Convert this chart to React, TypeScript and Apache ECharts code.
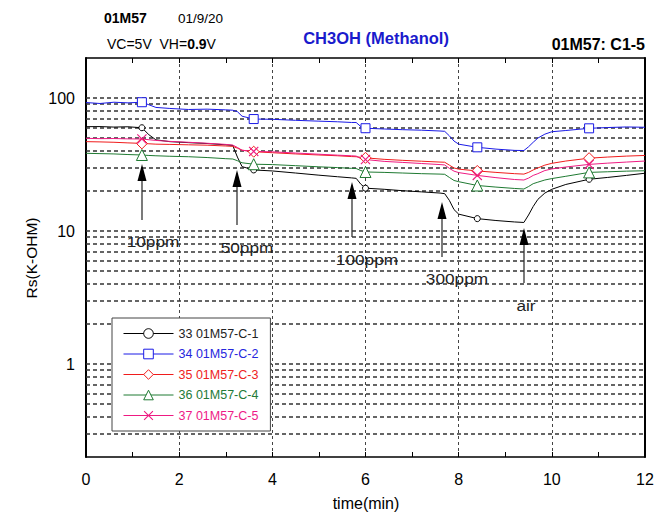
import React, { useEffect, useRef } from 'react';
import * as echarts from 'echarts';

const FONT = '"Liberation Sans", Arial, Helvetica, sans-serif';

// sample times (min)
const TIME = [0, 0.3, 0.6, 0.9, 1.2, 1.35, 1.5, 1.8, 2.2, 2.6, 3.0, 3.15, 3.25, 3.35, 3.6, 4.0, 4.5, 5.0, 5.4, 5.7, 5.8, 5.9, 6.0, 6.4, 6.8, 7.2, 7.6, 7.7, 7.8, 7.9, 8.0, 8.4, 8.8, 9.2, 9.4, 9.5, 9.6, 9.7, 9.85, 10.0, 10.3, 10.8, 11.2, 11.6, 12.0];
// times where markers are drawn
const MARKER_TIMES = [1.2, 3.6, 6.0, 8.4, 10.8];

const C1 = [60.9, 61, 60.5, 60.8, 59.8, 53, 48.5, 47, 46.2, 45.5, 44.5, 44, 36, 30.5, 28.8, 28.3, 27.3, 26.3, 25.6, 25.1, 24.9, 22.5, 21.0, 20.6, 20.1, 19.7, 19.3, 19.1, 17, 14.5, 13.4, 12.4, 12.0, 11.7, 11.6, 13.2, 15.3, 17.3, 19.3, 20.6, 22.4, 24.5, 25.3, 26.2, 27.2];
const C2 = [92.5, 91, 93, 92, 93, 89, 85, 83.5, 82, 82.5, 81.5, 81, 79, 73, 69.5, 69.2, 68, 67, 66.3, 65.5, 65.5, 61, 59.3, 58.5, 57.8, 57.3, 56.5, 56.2, 52, 47.5, 45, 42.6, 41.3, 40.4, 40.3, 43, 46.5, 50, 53.5, 55.8, 57, 59.2, 60, 60.6, 60.3];
const C3 = [47, 46.8, 46.5, 46, 45.6, 45.3, 45, 44.8, 44.5, 44.2, 43.6, 43.3, 42, 40.5, 39.5, 38.8, 38, 37.3, 36.8, 36.3, 36.2, 35.8, 35.5, 34.6, 34, 33.5, 33, 32.9, 31.3, 29.8, 29.2, 28.3, 27.6, 27, 26.8, 27.6, 28.8, 29.8, 31.3, 32.3, 33.6, 35.3, 36, 36.6, 37];
const C4 = [38.4, 38.2, 38, 37.6, 37.3, 37, 36.8, 36.5, 36.2, 35.7, 35, 34.8, 33.8, 32.6, 31.8, 31.6, 31, 30.4, 30, 29.6, 29.5, 28.5, 27.8, 27.6, 27.3, 27, 26.8, 26.7, 25.3, 24, 23.5, 22, 21.4, 20.9, 20.7, 21.6, 22.7, 23.3, 24.2, 24.8, 25.8, 27.6, 27.9, 28.2, 28.4];
const C5 = [49.8, 49.5, 49.6, 49.3, 49.2, 48.6, 48, 47.2, 46.5, 45.7, 44.8, 44.3, 42.5, 40.5, 39.7, 39.4, 38.6, 37.8, 37.2, 36.8, 36.6, 35, 34.5, 33.4, 32.8, 32.2, 31.6, 31.4, 29.6, 28.2, 27.5, 26.2, 25.2, 24.4, 24.2, 25, 26.2, 27, 28.5, 29.3, 30.3, 31.7, 32.4, 33, 33.6];

const SERIES_NAMES = ['33 01M57-C-1', '34 01M57-C-2', '35 01M57-C-3', '36 01M57-C-4', '37 01M57-C-5'];
const SERIES_VALUES = [C1, C2, C3, C4, C5];
const SERIES_COLORS = ['#000000', '#1a1ae6', '#f01c1c', '#1f7a32', '#ee1a82'];
const TEXT_COLORS = ['#222222', '#2626dd', '#ee2222', '#237a37', '#ee1a86'];
const X_SYMBOL = 'path://M0,0.8L0.8,0L5,4.2L9.2,0L10,0.8L5.8,5L10,9.2L9.2,10L5,5.8L0.8,10L0,9.2L4.2,5Z';
const SERIES_SYMBOLS = ['circle', 'rect', 'diamond', 'triangle', X_SYMBOL];
const SYMBOL_SIZES = [6, 9, 11, 11, 10];
const SYMBOL_FILLED = [false, false, false, false, true];

// axis
const X_MIN = 0;
const X_MAX = 12;
const Y_MIN = 0.2;
const Y_MAX = 200;
const DECADES = [0.1, 1, 10, 100];
const MULTS = [1, 2, 3, 4, 5, 6, 7, 8, 9];

// annotations
const ARROWS = [
  { label: '10ppm', x: 142, tip: 164, bottom: 220, lx: 153, ly: 241 },
  { label: '50ppm', x: 237, tip: 170, bottom: 225, lx: 247, ly: 247 },
  { label: '100ppm', x: 352, tip: 182, bottom: 237, lx: 367, ly: 259 },
  { label: '300ppm', x: 442, tip: 202, bottom: 257, lx: 457, ly: 278 },
  { label: 'air', x: 524, tip: 228, bottom: 283, lx: 526, ly: 305 },
];

function symbolStyle(i: number) {
  return SYMBOL_FILLED[i]
    ? { color: SERIES_COLORS[i], borderColor: SERIES_COLORS[i], borderWidth: 0 }
    : { color: '#ffffff', borderColor: SERIES_COLORS[i], borderWidth: 1 };
}

function buildOption() {
  const gridValues: number[] = [];
  DECADES.forEach((d) =>
    MULTS.forEach((m) => {
      const v = +(d * m).toPrecision(6);
      if (v > Y_MIN * 1.0001 && v < Y_MAX * 0.9999) gridValues.push(v);
    })
  );

  const dataSeries = SERIES_NAMES.map((name, si) => ({
    name,
    type: 'line',
    z: 3,
    color: SERIES_COLORS[si],
    symbol: SERIES_SYMBOLS[si],
    symbolSize: SYMBOL_SIZES[si],
    showSymbol: true,
    showAllSymbol: true,
    lineStyle: { width: 1, color: SERIES_COLORS[si] },
    itemStyle: symbolStyle(si),
    data: TIME.map((t, i) =>
      MARKER_TIMES.includes(t)
        ? [t, SERIES_VALUES[si][i]]
        : { value: [t, SERIES_VALUES[si][i]], symbol: 'none' }
    ),
  }));

  const gridSeries = {
    name: 'grid',
    type: 'line',
    z: 1,
    data: [],
    silent: true,
    markLine: {
      silent: true,
      z: 1,
      symbol: ['none', 'none'],
      label: { show: false },
      lineStyle: { color: '#333333', type: [4, 3], width: 1.5 },
      emphasis: { disabled: true },
      data: gridValues.map((v) => ({ yAxis: v })),
    },
  };

  const arrowGraphics: any[] = [];
  ARROWS.forEach((a) => {
    arrowGraphics.push({
      type: 'line',
      shape: { x1: a.x, y1: a.tip + 12, x2: a.x, y2: a.bottom },
      style: { stroke: '#333', lineWidth: 1.3 },
      z: 10,
    });
    arrowGraphics.push({
      type: 'polygon',
      shape: { points: [[a.x, a.tip], [a.x - 4.5, a.tip + 17], [a.x + 4.5, a.tip + 17]] },
      style: { fill: '#000' },
      z: 10,
    });
    arrowGraphics.push({
      type: 'text',
      x: a.lx,
      y: a.ly,
      scaleX: 1.15,
      z: 10,
      style: { text: a.label, fill: '#222', fontSize: 15, fontFamily: FONT, align: 'center', verticalAlign: 'middle' },
    });
  });

  const headerGraphics = [
    { type: 'text', x: 104, y: 18, style: { text: '01M57', fontWeight: 'bold', fontSize: 14, fill: '#000', fontFamily: FONT, verticalAlign: 'middle' } },
    { type: 'text', x: 178, y: 18, style: { text: '01/9/20', fontSize: 13.5, fill: '#000', fontFamily: FONT, verticalAlign: 'middle' } },
    {
      type: 'text', x: 107, y: 44,
      style: {
        text: '{n|VC=5V  VH=}{b|0.9}{n|V}', verticalAlign: 'middle', fontFamily: FONT,
        rich: {
          n: { fontSize: 14, fill: '#000', fontFamily: FONT },
          b: { fontSize: 14, fontWeight: 'bold', fill: '#000', fontFamily: FONT },
        },
      },
    },
    { type: 'text', x: 376, y: 38, style: { text: 'CH3OH (Methanol)', fontWeight: 'bold', fontSize: 16.5, fill: '#1a1acc', fontFamily: FONT, align: 'center', verticalAlign: 'middle' } },
    { type: 'text', x: 645, y: 44, style: { text: '01M57: C1-5', fontWeight: 'bold', fontSize: 16, fill: '#000', fontFamily: FONT, align: 'right', verticalAlign: 'middle' } },
    { type: 'text', x: 366, y: 503, style: { text: 'time(min)', fontSize: 16, fill: '#000', fontFamily: FONT, align: 'center', verticalAlign: 'middle' } },
    { type: 'text', x: 31, y: 258, rotation: Math.PI / 2, style: { text: 'Rs(K-OHM)', fontSize: 15.5, fill: '#000', fontFamily: FONT, align: 'center', verticalAlign: 'middle' } },
  ];

  const isDecade = (v: number) => {
    const l = Math.log10(v);
    return Math.abs(l - Math.round(l)) < 1e-6;
  };

  return {
    animation: false,
    backgroundColor: '#ffffff',
    textStyle: { fontFamily: FONT },
    grid: { left: 86, right: 24, top: 58, bottom: 58, containLabel: false },
    legend: {
      orient: 'vertical',
      left: 112,
      top: 318,
      z: 20,
      padding: [9, 12, 9, 11],
      itemGap: 7.5,
      itemWidth: 50,
      itemHeight: 12,
      selectedMode: false,
      backgroundColor: '#ffffff',
      borderColor: '#444',
      borderWidth: 1,
      textStyle: { fontSize: 12.5, fontFamily: FONT },
      data: SERIES_NAMES.map((n, i) => ({
        name: n,
        textStyle: { color: TEXT_COLORS[i], fontSize: 12.5, fontFamily: FONT },
        lineStyle: { color: SERIES_COLORS[i], width: 1 },
        itemStyle: symbolStyle(i),
      })),
    },
    xAxis: [
      {
        type: 'value',
        min: X_MIN,
        max: X_MAX,
        interval: 2,
        position: 'bottom',
        axisLine: { show: true, onZero: false, lineStyle: { color: '#000', width: 1.5 } },
        axisTick: { show: true, inside: true, length: 5, lineStyle: { color: '#000', width: 1 } },
        minorTick: { show: true, splitNumber: 2, length: 5, lineStyle: { color: '#000', width: 1 } },
        axisLabel: { color: '#000', fontSize: 16, margin: 14, fontFamily: FONT },
        splitLine: { show: true, lineStyle: { color: '#444', type: [3, 3], width: 1 } },
      },
      {
        type: 'value',
        min: X_MIN,
        max: X_MAX,
        interval: 1,
        position: 'top',
        axisLine: { show: true, onZero: false, lineStyle: { color: '#000', width: 1.5 } },
        axisTick: { show: true, inside: true, length: 5, lineStyle: { color: '#000', width: 1 } },
        axisLabel: { show: false },
        splitLine: { show: false },
      },
    ],
    yAxis: [
      {
        type: 'log',
        logBase: 10,
        min: Y_MIN,
        max: Y_MAX,
        position: 'left',
        axisLine: { show: true, onZero: false, lineStyle: { color: '#000', width: 2 } },
        axisTick: { show: false },
        axisLabel: {
          color: '#000',
          fontSize: 16,
          margin: 11,
          fontFamily: FONT,
          formatter: (v: number) => (isDecade(v) ? String(Math.round(v * 1000) / 1000) : ''),
        },
        splitLine: { show: false },
      },
      {
        type: 'log',
        logBase: 10,
        min: Y_MIN,
        max: Y_MAX,
        position: 'right',
        axisLine: { show: true, onZero: false, lineStyle: { color: '#000', width: 2 } },
        axisTick: { show: false },
        axisLabel: { show: false },
        splitLine: { show: false },
      },
    ],
    series: [gridSeries, ...dataSeries],
    graphic: [...headerGraphics, ...arrowGraphics],
  };
}

export default function App() {
  const ref = useRef<HTMLDivElement>(null);
  useEffect(() => {
    if (!ref.current) return;
    const chart = echarts.init(ref.current, null, { renderer: 'svg' });
    chart.setOption(buildOption() as any);
    return () => chart.dispose();
  }, []);
  return (
    <div
      ref={ref}
      style={{ position: 'absolute', left: 0, top: 0, width: 669, height: 515, background: '#fff' }}
    />
  );
}
